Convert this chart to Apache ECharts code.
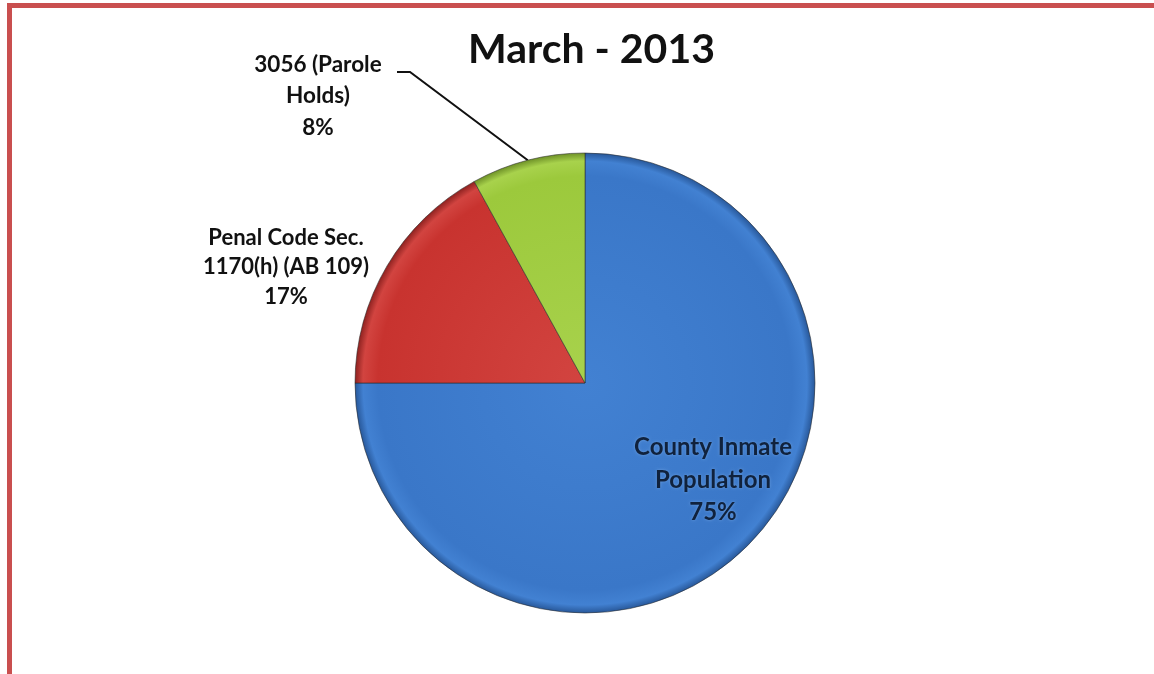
<!DOCTYPE html>
<html>
<head>
<meta charset="utf-8">
<title>March - 2013</title>
<script src="https://cdn.jsdelivr.net/npm/echarts@6/dist/echarts.min.js"></script>
<style>
  html, body { margin: 0; padding: 0; background: #ffffff; }
  #chart { width: 1154px; height: 674px; }
</style>
</head>
<body>
<div id="chart"></div>
<script>
// Jail population breakdown, March 2013 (percent of total)
const chartTitle = 'March - 2013';
const categories = [
  'County Inmate\nPopulation',
  'Penal Code Sec.\n1170(h) (AB 109)',
  '3056 (Parole\nHolds)'
];
const shares = [75, 17, 8];

const CX = 585, CY = 383, R = 230;

// Slice fills: soft radial shading with a darker rim, like a bevelled pie
function shade(mid, light, rim) {
  return {
    type: 'radial', x: CX, y: CY, r: R, global: true,
    colorStops: [
      { offset: 0, color: light },
      { offset: 0.9, color: mid },
      { offset: 0.965, color: light },
      { offset: 1, color: rim }
    ]
  };
}
const fills = [
  shade('#3a77c8', '#4281d2', '#28589a'),
  shade('#c8332f', '#d24440', '#8e2220'),
  shade('#9cc93c', '#a8d24c', '#6f9228')
];

const labelStyles = [
  { position: 'inside', color: '#10223d', fontSize: 24, lineHeight: 32.5,
    textShadowColor: 'rgba(120,170,230,0.8)', textShadowBlur: 3 },
  { position: 'outside', color: '#111111', fontSize: 22, lineHeight: 29.5 },
  { position: 'outside', color: '#111111', fontSize: 22.5, lineHeight: 31.5 }
];
const labelCentres = [[713, 480], [286, 267], [318, 96]];

const data = categories.map((name, i) => ({
  name: name,
  value: shares[i],
  itemStyle: { color: fills[i] },
  label: labelStyles[i],
  labelLine: { show: i === 2, lineStyle: { color: '#111111', width: 2 } }
}));

const chart = echarts.init(document.getElementById('chart'), null, { renderer: 'canvas' });
chart.setOption({
  backgroundColor: '#ffffff',
  animation: false,
  title: {
    text: chartTitle,
    left: 463,
    top: 24,
    textStyle: { fontFamily: 'Lato', fontWeight: 'bold', fontSize: 41, color: '#111111' }
  },
  graphic: [
    { type: 'rect', shape: { x: 7, y: 3, width: 1147, height: 5 }, style: { fill: '#c94f4f' } },
    { type: 'rect', shape: { x: 7, y: 3, width: 5, height: 671 }, style: { fill: '#c94f4f' } }
  ],
  series: [{
    type: 'pie',
    center: [CX, CY],
    radius: [0, R],
    startAngle: 90,
    clockwise: true,
    data: data,
    itemStyle: { borderColor: 'rgba(40,40,40,0.55)', borderWidth: 1 },
    label: {
      show: true,
      fontFamily: 'Lato',
      fontWeight: 'bold',
      align: 'center',
      formatter: p => p.name + '\n' + p.value + '%'
    },
    labelLayout: function (params) {
      const c = labelCentres[params.dataIndex];
      const out = { x: c[0], y: c[1], align: 'center', verticalAlign: 'middle' };
      if (params.dataIndex === 2 && params.labelLinePoints) {
        const p0 = params.labelLinePoints[0];
        out.labelLinePoints = [p0, [410, 72], [397, 72]];
      }
      return out;
    }
  }]
});
</script>
</body>
</html>
